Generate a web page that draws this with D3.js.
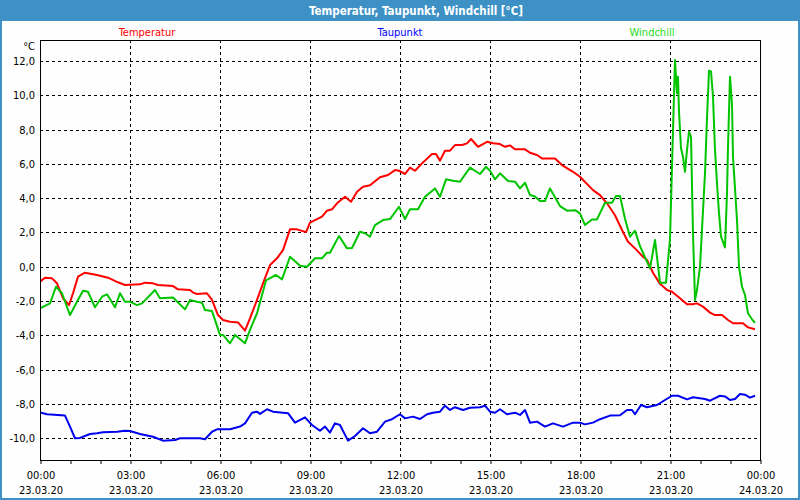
<!DOCTYPE html>
<html>
<head>
<meta charset="utf-8">
<script src="https://cdn.jsdelivr.net/npm/d3@7"></script>
<style>
  html, body { margin: 0; padding: 0; background: #fdfefd; }
  svg { display: block; }
  text { font-family: "DejaVu Sans Condensed", "DejaVu Sans", Tahoma, sans-serif; }
</style>
</head>
<body>
<svg id="chart" width="800" height="500"></svg>
<script>
// ---- data (time in minutes since 23.03.20 00:00, values in °C) ----
const titleText = "Temperatur, Taupunkt, Windchill [°C]";
const seriesNames = ["Temperatur", "Taupunkt", "Windchill"];
const yTickValues = [-10, -8, -6, -4, -2, 0, 2, 4, 6, 8, 10, 12];
const xLabelHours = [0, 3, 6, 9, 12, 15, 18, 21, 24];
const xLabelTimes = ["00:00", "03:00", "06:00", "09:00", "12:00", "15:00", "18:00", "21:00", "00:00"];
const xLabelDates = ["23.03.20", "23.03.20", "23.03.20", "23.03.20", "23.03.20", "23.03.20", "23.03.20", "23.03.20", "24.03.20"];

const tempTimes = [0,10,24,34,46,58,66,76,90,114,136,156,170,200,210,226,236,266,276,300,306,314,334,344,356,366,380,396,410,420,434,446,460,474,486,500,514,532,540,564,574,584,594,610,622,634,646,660,680,696,710,718,730,740,750,764,784,792,800,810,820,830,844,854,862,876,894,906,920,930,940,950,970,980,994,1004,1030,1044,1066,1080,1106,1120,1134,1150,1164,1176,1190,1206,1214,1226,1240,1254,1264,1280,1294,1304,1314,1326,1340,1350,1364,1376,1386,1406,1416,1430];
const tempValues = [-0.87,-0.64,-0.68,-0.97,-1.84,-2.24,-1.55,-0.58,-0.35,-0.48,-0.64,-0.91,-1.07,-1.03,-0.93,-0.97,-1.07,-1.13,-1.32,-1.36,-1.51,-1.59,-1.55,-1.94,-2.82,-3.11,-3.21,-3.25,-3.73,-3.01,-1.94,-0.97,0.1,0.49,0.97,2.18,2.18,2.02,2.57,2.92,3.27,3.35,3.7,4.08,3.79,4.38,4.67,4.75,5.22,5.35,5.64,5.6,5.41,5.78,5.6,6.03,6.58,6.58,6.19,6.77,6.77,7.1,7.1,7.2,7.45,7.0,7.29,7.2,7.16,7.0,7.08,6.85,6.85,6.65,6.52,6.32,6.32,5.93,5.54,5.25,4.47,4.18,3.7,3.0,2.14,1.46,1.07,0.58,0.39,-0.35,-1.0,-1.36,-1.46,-1.84,-2.19,-2.19,-2.14,-2.33,-2.68,-2.82,-2.82,-3.11,-3.3,-3.3,-3.54,-3.65];

const dewTimes = [0,14,50,60,70,80,100,114,126,154,170,180,200,226,246,270,280,320,330,344,354,380,400,410,424,434,440,454,466,496,510,530,544,560,570,580,590,600,616,630,646,660,674,690,704,720,730,746,760,774,786,800,810,820,830,846,860,880,890,900,910,920,934,950,960,970,980,994,1010,1026,1046,1066,1080,1090,1106,1120,1140,1160,1174,1184,1190,1202,1214,1234,1250,1264,1276,1294,1306,1330,1340,1360,1370,1380,1390,1400,1410,1420,1430];
const dewValues = [-8.5,-8.61,-8.69,-9.33,-10.01,-9.99,-9.76,-9.72,-9.66,-9.63,-9.57,-9.59,-9.76,-9.92,-10.15,-10.11,-10.01,-10.01,-10.07,-9.63,-9.49,-9.49,-9.33,-9.14,-8.52,-8.46,-8.59,-8.32,-8.46,-8.55,-9.1,-8.79,-9.24,-9.57,-9.33,-9.68,-9.14,-9.24,-10.15,-9.88,-9.43,-9.72,-9.63,-9.04,-8.9,-8.61,-8.85,-8.75,-8.89,-8.61,-8.52,-8.46,-8.11,-8.36,-8.2,-8.36,-8.23,-8.2,-8.11,-8.46,-8.52,-8.32,-8.61,-8.52,-8.65,-8.36,-9.1,-9.04,-9.33,-9.14,-9.33,-9.1,-9.1,-9.2,-9.1,-8.9,-8.69,-8.67,-8.36,-8.36,-8.61,-8.07,-8.2,-8.07,-7.78,-7.53,-7.53,-7.74,-7.62,-7.72,-7.82,-7.53,-7.57,-7.78,-7.72,-7.43,-7.47,-7.64,-7.53];

const windTimes = [0,20,32,44,60,74,86,96,110,124,134,150,160,170,180,194,204,230,240,266,290,300,314,324,330,344,360,366,380,390,410,420,434,452,472,484,500,520,534,550,564,574,580,598,614,624,640,650,660,670,686,700,718,730,740,756,770,790,800,812,826,840,860,880,892,900,910,920,936,950,960,970,980,990,1000,1010,1020,1040,1054,1070,1080,1090,1104,1114,1130,1144,1152,1160,1170,1180,1190,1200,1220,1230,1240,1252,1260,1264,1266,1270,1274,1276,1278,1282,1286,1290,1294,1298,1302,1306,1310,1314,1320,1330,1334,1338,1342,1346,1350,1354,1358,1362,1370,1374,1376,1380,1384,1386,1390,1394,1398,1404,1410,1416,1424,1430];
const windValues = [-2.43,-2.14,-1.17,-1.55,-2.82,-2.04,-1.4,-1.46,-2.37,-1.75,-1.61,-2.37,-1.55,-2.04,-2.04,-2.24,-2.14,-1.36,-1.84,-1.8,-2.49,-1.94,-2.04,-2.1,-2.53,-2.59,-3.98,-3.98,-4.47,-3.98,-4.47,-3.69,-2.72,-0.8,-0.48,-0.74,0.58,0.06,0.0,0.49,0.49,0.82,0.82,1.79,1.07,1.09,2.04,1.95,1.75,2.43,2.72,2.78,3.5,2.78,3.35,3.35,4.08,4.57,4.08,5.1,5.02,4.96,5.78,5.41,5.83,5.6,5.1,5.45,5.0,4.96,4.57,4.9,4.18,4.1,3.83,3.83,4.57,3.54,3.27,3.3,3.11,2.43,2.76,2.76,3.73,3.73,4.12,4.12,2.8,1.75,2.1,1.2,-0.1,1.56,-0.93,-0.93,1.6,5.83,7.97,12.06,10.12,11.09,9.05,6.91,6.42,5.54,6.81,7.88,7.58,1.95,-1.94,-1.36,0.0,5.45,8.66,11.44,11.4,9.92,6.81,4.86,3.11,1.75,1.13,4.28,7.0,11.09,9.43,6.42,4.57,2.72,0.0,-1.17,-1.65,-2.72,-3.07,-3.27];

// ---- layout ----
const W = 800, H = 500;
const plot = { left: 40, right: 760, top: 40, bottom: 460 };
const colors = { temp: "#ff0000", dew: "#0000f0", wind: "#00c400" };
const legendColors = ["#ff0000", "#0000ff", "#22dd22"];

const svg = d3.select("#chart");

// page background + border + title bar
svg.append("rect").attr("x", 0).attr("y", 0).attr("width", W).attr("height", H).attr("fill", "#fdfefd");
svg.append("rect").attr("x", 0).attr("y", 0).attr("width", W).attr("height", 21).attr("fill", "#3d91c5");
svg.append("rect").attr("x", 1).attr("y", 1).attr("width", W - 2).attr("height", H - 2)
  .attr("fill", "none").attr("stroke", "#3d91c5").attr("stroke-width", 2);
svg.append("text").attr("x", 416).attr("y", 14.5).attr("text-anchor", "middle")
  .attr("fill", "#ffffff").attr("font-weight", "bold").attr("font-size", "11.5px").text(titleText);

// scales
const x = d3.scaleLinear().domain([0, 1440]).range([plot.left, plot.right]);
const y = d3.scaleLinear().domain([-11.28, 13.23]).range([plot.bottom, plot.top]);

// legend
const legendX = [147, 400, 652];
svg.selectAll("text.legend").data(seriesNames).enter().append("text")
  .attr("class", "legend")
  .attr("x", (d, i) => legendX[i]).attr("y", 36)
  .attr("text-anchor", "middle").attr("font-size", "11px")
  .attr("fill", (d, i) => legendColors[i]).text(d => d);

// grid
const g = svg.append("g");
g.selectAll("line.hgrid").data(yTickValues).enter().append("line")
  .attr("x1", plot.left).attr("x2", plot.right)
  .attr("y1", d => Math.round(y(d)) + 0.5).attr("y2", d => Math.round(y(d)) + 0.5)
  .attr("stroke", "#000").attr("stroke-dasharray", "3,3").attr("stroke-width", 1);
g.selectAll("line.vgrid").data(xLabelHours.slice(1, -1)).enter().append("line")
  .attr("y1", plot.top).attr("y2", plot.bottom)
  .attr("x1", d => Math.round(x(d * 60)) + 0.5).attr("x2", d => Math.round(x(d * 60)) + 0.5)
  .attr("stroke", "#000").attr("stroke-dasharray", "3,3").attr("stroke-width", 1);

// x axis: hourly ticks
const hourTicks = d3.range(0, 25).map(h => h * 60);
const xAxis = d3.axisBottom(x).tickValues(hourTicks).tickSize(4).tickFormat("");
const xg = svg.append("g").attr("transform", `translate(0.5,${plot.bottom})`).call(xAxis);
xg.select(".domain").remove();
xg.selectAll(".tick line").attr("stroke", "#000");

// x labels (two lines)
const xl = svg.append("g");
xLabelHours.forEach((h, i) => {
  const t = xl.append("text").attr("x", x(h * 60) + 1).attr("text-anchor", "middle")
    .attr("font-size", "11px").attr("fill", "#000");
  t.append("tspan").attr("x", x(h * 60) + 1).attr("y", 479).text(xLabelTimes[i]);
  t.append("tspan").attr("x", x(h * 60) + 1).attr("y", 494).text(xLabelDates[i]);
});

// y axis labels
const loc = d3.formatLocale({ decimal: ",", thousands: ".", grouping: [3], currency: ["", "€"], minus: "-" });
const fmt = loc.format(".1f");
const yAxis = d3.axisLeft(y).tickValues(yTickValues).tickSize(0).tickPadding(5).tickFormat(fmt);
const yg = svg.append("g").attr("transform", `translate(${plot.left},0)`).call(yAxis);
yg.select(".domain").remove();
yg.selectAll("text").attr("font-size", "11px").attr("fill", "#000")
  .attr("font-family", "\"DejaVu Sans Condensed\", \"DejaVu Sans\", sans-serif");
svg.append("text").attr("x", 35).attr("y", 50).attr("text-anchor", "end")
  .attr("font-size", "11px").attr("fill", "#000").text("°C");

// lines
const line = d3.line().x(d => x(d[0])).y(d => y(d[1]));
const seriesData = [
  { pts: d3.zip(dewTimes, dewValues), color: colors.dew },
  { pts: d3.zip(tempTimes, tempValues), color: colors.temp },
  { pts: d3.zip(windTimes, windValues), color: colors.wind }
];
svg.append("clipPath").attr("id", "plotclip").append("rect")
  .attr("x", plot.left).attr("y", plot.top).attr("width", plot.right - plot.left).attr("height", plot.bottom - plot.top);
svg.append("g").attr("clip-path", "url(#plotclip)")
  .selectAll("path.series").data(seriesData).enter().append("path")
  .attr("class", "series")
  .attr("d", d => line(d.pts))
  .attr("fill", "none").attr("stroke", d => d.color).attr("stroke-width", 2)
  .attr("stroke-linejoin", "round");

// frame
svg.append("rect").attr("x", plot.left + 0.5).attr("y", plot.top + 0.5)
  .attr("width", plot.right - plot.left).attr("height", plot.bottom - plot.top)
  .attr("fill", "none").attr("stroke", "#000").attr("stroke-width", 1);
</script>
</body>
</html>
